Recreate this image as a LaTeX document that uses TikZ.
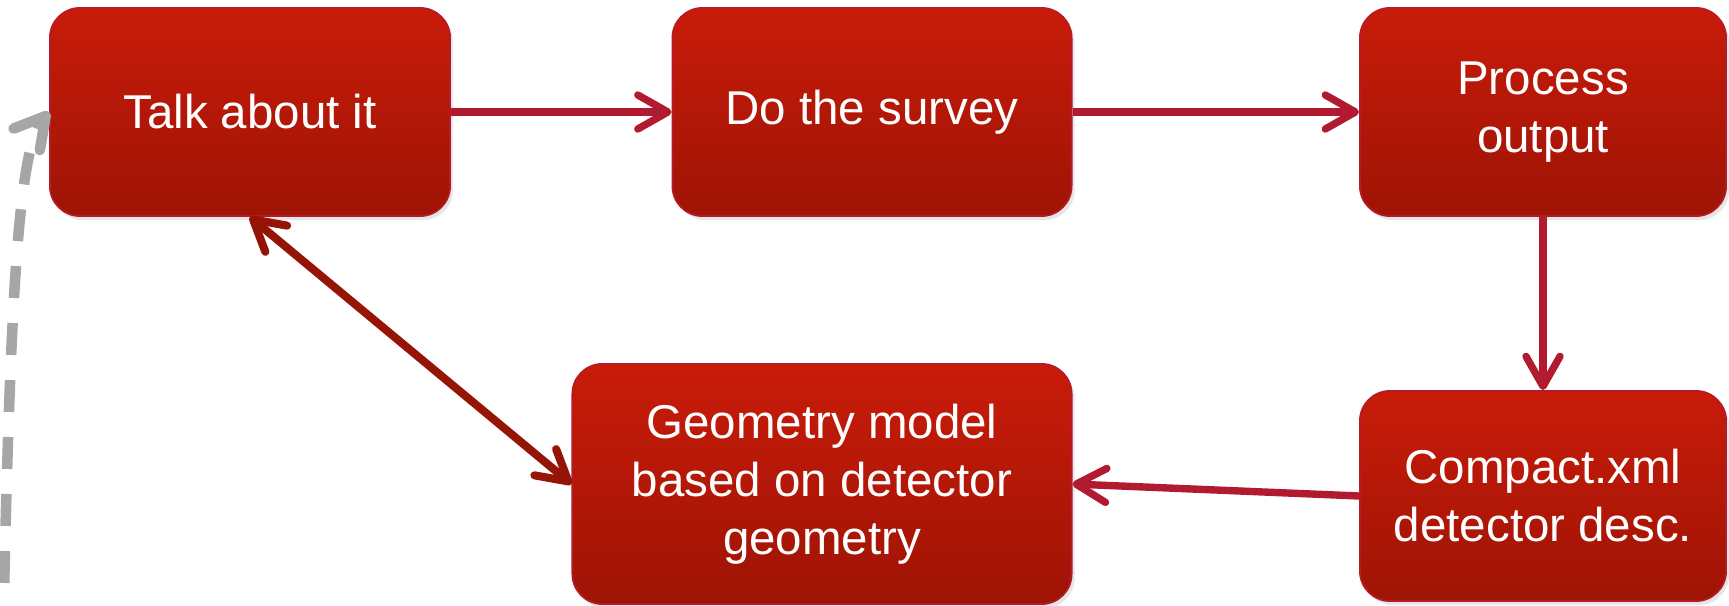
\documentclass[tikz,border=0pt]{standalone}
\usepackage{fontspec}
\setmainfont{Liberation Sans}
\usetikzlibrary{arrows.meta, shadows}

\definecolor{boxtop}{RGB}{201,27,10}
\definecolor{boxbottom}{RGB}{158,20,5}
\definecolor{boxedge}{RGB}{182,26,40}
\definecolor{flowred}{RGB}{178,26,48}
\definecolor{linkred}{RGB}{150,20,5}
\definecolor{loopgrey}{RGB}{166,166,166}

\begin{document}
\begin{tikzpicture}[
				x=0.01cm, y=-0.01cm,
				>={Straight Barb[round, length=0.3cm, width=0.34cm]},
				stepbox/.style={draw=boxedge, line width=0.5pt, rounded corners=0.3cm,
					top color=boxtop, bottom color=boxbottom, text=white, align=center,
					font=\fontsize{13.5}{16.5}\selectfont,
					drop shadow={opacity=0.2, shadow xshift=0.03cm, shadow yshift=-0.04cm}},
				flow/.style={->, draw=flowred, line width=2.1pt},
				link/.style={<->, draw=linkred, line width=2.3pt},
				loopback/.style={->, draw=loopgrey, line width=3pt, dash pattern=on 0.32cm off 0.25cm}
				]
				
				\clip (0,0) rectangle (1729,606);
				
				% Cajas
				\node[stepbox, minimum width=4cm, minimum height=2.08cm] (talk) at (250,112) {Talk about it};
				\node[stepbox, minimum width=3.99cm, minimum height=2.08cm] (survey) at (872,112) {Do the survey};
				\node[stepbox, minimum width=3.66cm, minimum height=2.08cm] (process) at (1543,112) {Process\\output};
				\node[stepbox, minimum width=3.66cm, minimum height=2.1cm] (compact) at (1543,496) {Compact.xml\\detector desc.};
				\node[stepbox, minimum width=4.99cm, minimum height=2.4cm] (geom) at (822,484) {Geometry model\\based on detector\\geometry};
				
				% Flujo
				\draw[flow] (talk.east) -- (survey.west);
				\draw[flow] (survey.east) -- (process.west);
				\draw[flow] (process.south) -- (compact.north);
				\draw[flow] (compact.west) -- (geom.east);
				
				% Ida y vuelta
				\draw[link] (talk.south) -- (geom.west);
				
				% Vuelta al inicio
				\coordinate (back) at (3,640);
				\draw[loopback] (back) .. controls (10,300) and (18,150) .. (talk.west);
				
			\end{tikzpicture}
\end{document}
